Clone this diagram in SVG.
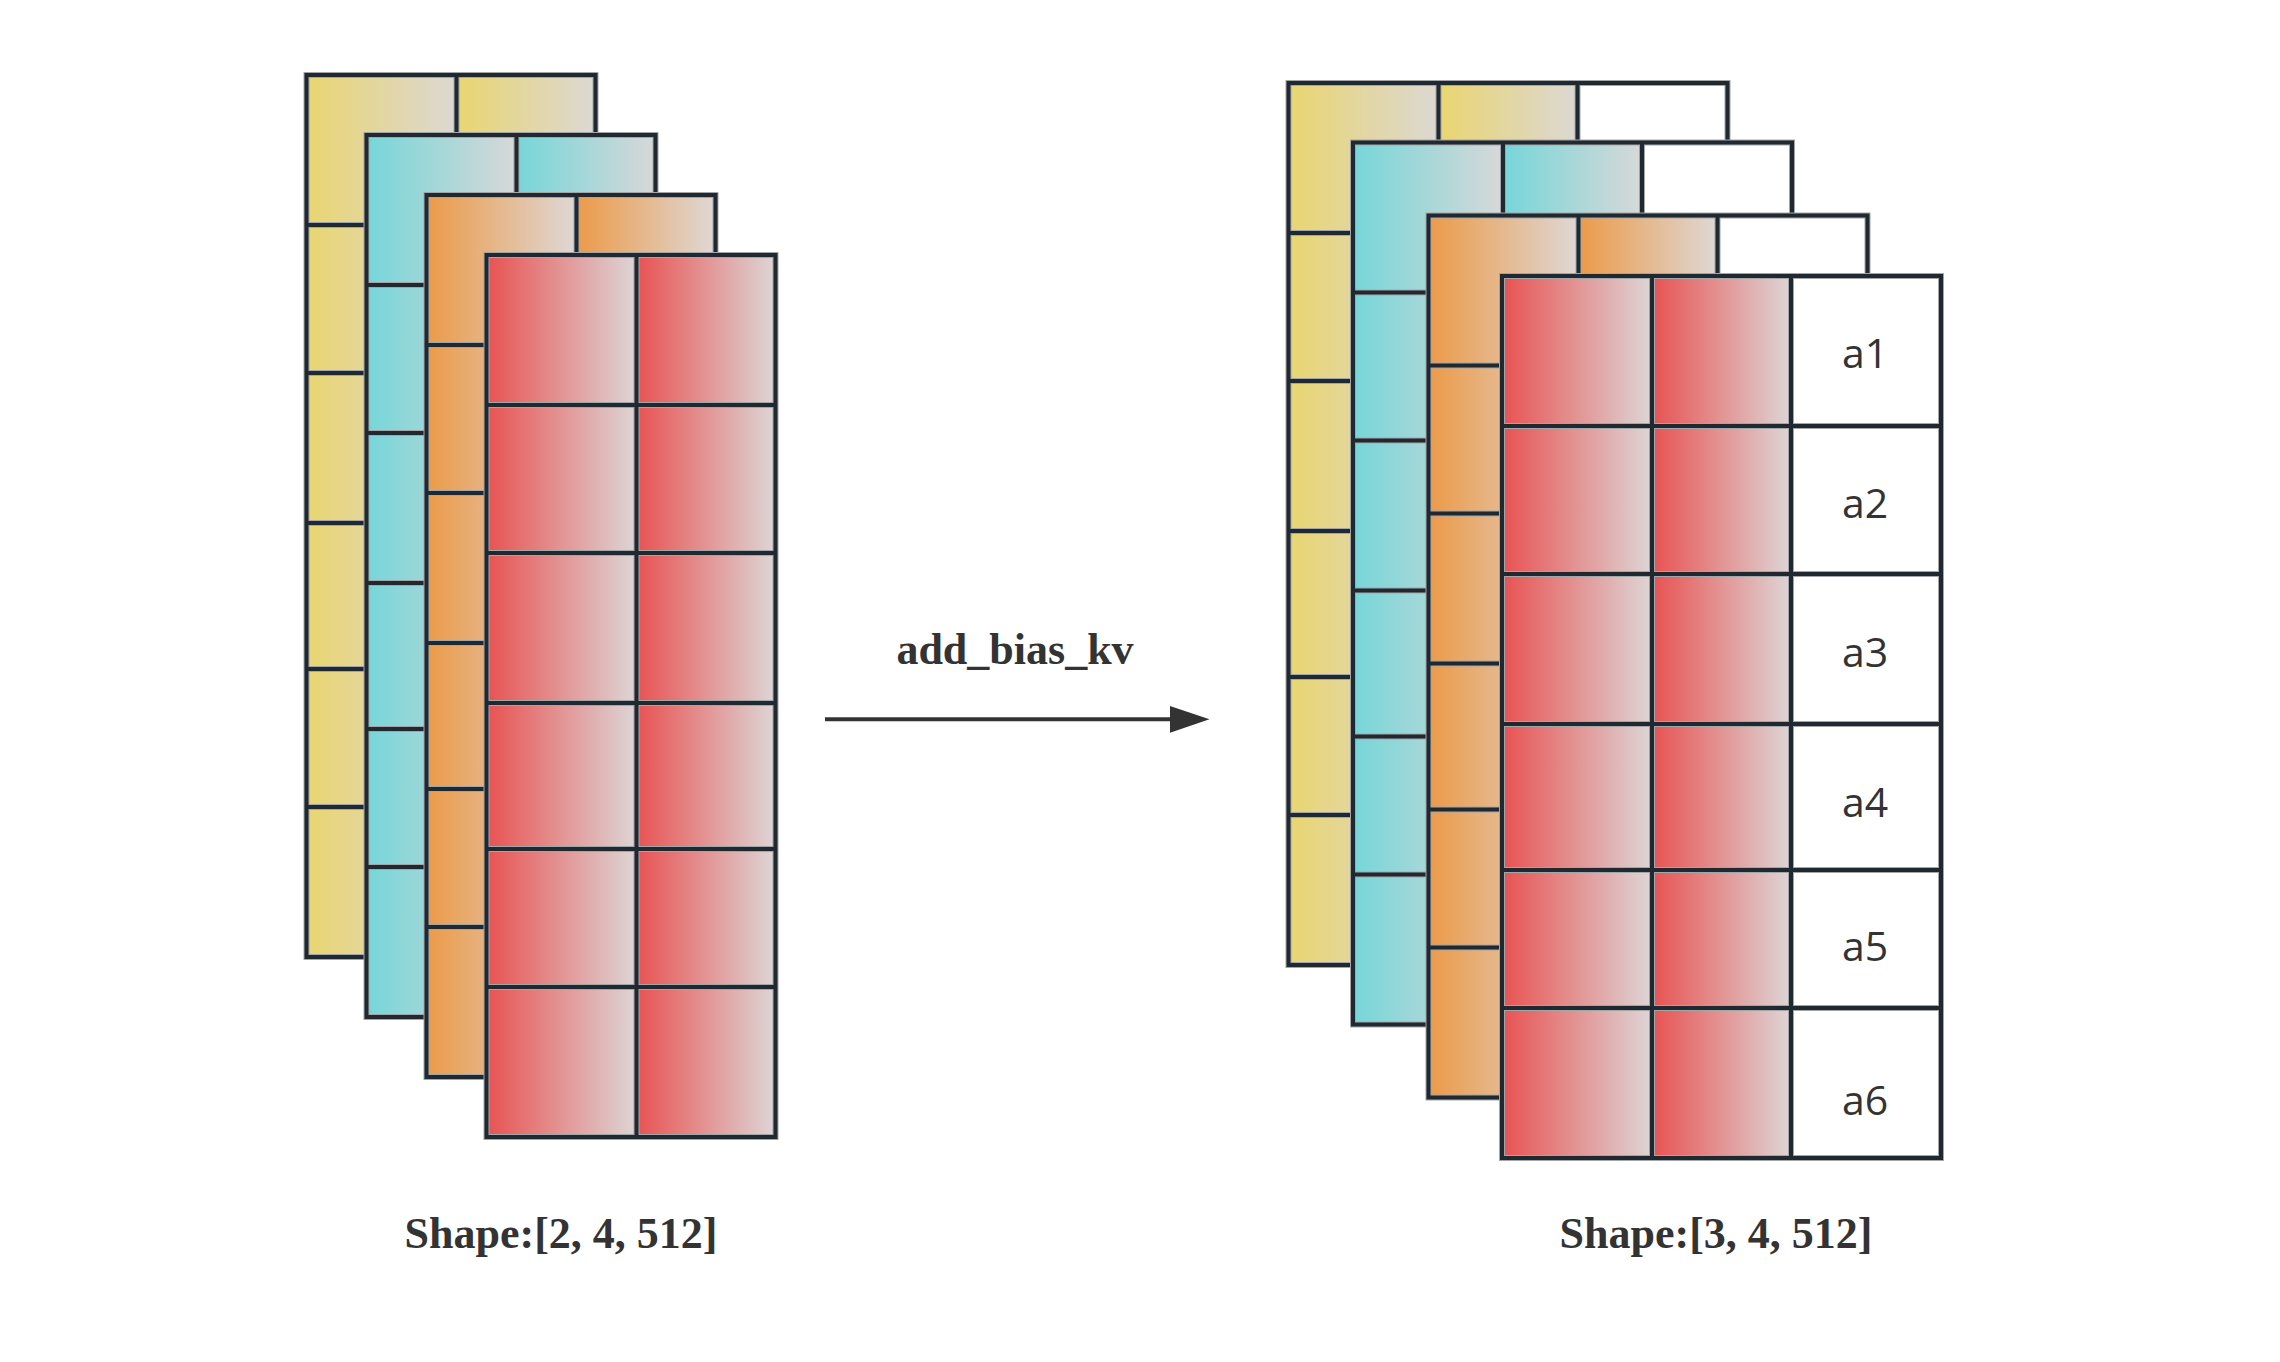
<svg xmlns="http://www.w3.org/2000/svg" width="2280" height="1362" viewBox="0 0 2280 1362">
<style>
.halo{fill:none;stroke:#a3a6a8;stroke-width:6}
.grid{fill:none;stroke:#202930;stroke-width:4;stroke-linecap:square}
.cy{fill:url(#gy)}.cc{fill:url(#gc)}.co{fill:url(#go)}.cr{fill:url(#gr)}.cw{fill:#ffffff}
.lbl{font-family:"Liberation Serif","Times New Roman",serif;font-weight:bold;font-size:44px;fill:#333333;text-anchor:middle}
.cell{font-family:"Open Sans","Noto Sans",sans-serif;font-size:41px;fill:#333333;text-anchor:middle}
</style>
<defs>
<linearGradient id="gy" x1="0" y1="0" x2="1" y2="0"><stop offset="0" stop-color="#e9d570"/><stop offset="1" stop-color="#dcd8d4"/></linearGradient>
<linearGradient id="gc" x1="0" y1="0" x2="1" y2="0"><stop offset="0" stop-color="#76d6d8"/><stop offset="1" stop-color="#d8d8d8"/></linearGradient>
<linearGradient id="go" x1="0" y1="0" x2="1" y2="0"><stop offset="0" stop-color="#ec9a48"/><stop offset="1" stop-color="#ded8d6"/></linearGradient>
<linearGradient id="gr" x1="0" y1="0" x2="1" y2="0"><stop offset="0" stop-color="#e85252"/><stop offset="1" stop-color="#ddd6d6"/></linearGradient>
<path id="g2" d="M0 0H289V882H0Z M150 0V882 M0 150H289 M0 298H289 M0 448H289 M0 594H289 M0 732H289"/>
<path id="g3" d="M0 0H439V882H0Z M150 0V882 M289 0V882 M0 150H439 M0 298H439 M0 448H439 M0 594H439 M0 732H439"/>
</defs>
<rect width="2280" height="1362" fill="#ffffff"/>

<g id="left-stack">
<g id="left-layer-yellow" transform="translate(306.5,75)">
<rect class="cy" x="0" y="0" width="150" height="882"/><rect class="cy" x="150" y="0" width="139" height="882"/>
<use href="#g2" class="halo"/><use href="#g2" class="grid"/>
</g>
<g id="left-layer-cyan" transform="translate(366.5,135)">
<rect class="cc" x="0" y="0" width="150" height="882"/><rect class="cc" x="150" y="0" width="139" height="882"/>
<use href="#g2" class="halo"/><use href="#g2" class="grid"/>
</g>
<g id="left-layer-orange" transform="translate(426.5,195)">
<rect class="co" x="0" y="0" width="150" height="882"/><rect class="co" x="150" y="0" width="139" height="882"/>
<use href="#g2" class="halo"/><use href="#g2" class="grid"/>
</g>
<g id="left-layer-red" transform="translate(486.5,255)">
<rect class="cr" x="0" y="0" width="150" height="882"/><rect class="cr" x="150" y="0" width="139" height="882"/>
<use href="#g2" class="halo"/><use href="#g2" class="grid"/>
</g>
</g>

<g id="right-stack">
<g id="right-layer-yellow" transform="translate(1288.5,83)">
<rect class="cy" x="0" y="0" width="150" height="882"/><rect class="cy" x="150" y="0" width="139" height="882"/><rect class="cw" x="289" y="0" width="150" height="882"/>
<use href="#g3" class="halo"/><use href="#g3" class="grid"/>
</g>
<g id="right-layer-cyan" transform="translate(1353,142.5)">
<rect class="cc" x="0" y="0" width="150" height="882"/><rect class="cc" x="150" y="0" width="139" height="882"/><rect class="cw" x="289" y="0" width="150" height="882"/>
<use href="#g3" class="halo"/><use href="#g3" class="grid"/>
</g>
<g id="right-layer-orange" transform="translate(1428.5,215.5)">
<rect class="co" x="0" y="0" width="150" height="882"/><rect class="co" x="150" y="0" width="139" height="882"/><rect class="cw" x="289" y="0" width="150" height="882"/>
<use href="#g3" class="halo"/><use href="#g3" class="grid"/>
</g>
<g id="right-layer-red" transform="translate(1502,276)">
<rect class="cr" x="0" y="0" width="150" height="882"/><rect class="cr" x="150" y="0" width="139" height="882"/><rect class="cw" x="289" y="0" width="150" height="882"/>
<use href="#g3" class="halo"/><use href="#g3" class="grid"/>
</g>
<g id="bias-labels">
<text class="cell" x="1865" y="368">a1</text>
<text class="cell" x="1865" y="518">a2</text>
<text class="cell" x="1865" y="667">a3</text>
<text class="cell" x="1865" y="817">a4</text>
<text class="cell" x="1865" y="961">a5</text>
<text class="cell" x="1865" y="1115">a6</text>
</g>
</g>

<g id="connectors">
<line x1="825" y1="719.3" x2="1172" y2="719.3" stroke="#333333" stroke-width="4"/>
<polygon points="1170,706 1209.5,719.3 1170,732.7" fill="#333333"/>
</g>

<g id="texts">
<text class="lbl" x="1015" y="664">add_bias_kv</text>
<text class="lbl" x="561" y="1248">Shape:[2, 4, 512]</text>
<text class="lbl" x="1716" y="1248">Shape:[3, 4, 512]</text>
</g>
</svg>
